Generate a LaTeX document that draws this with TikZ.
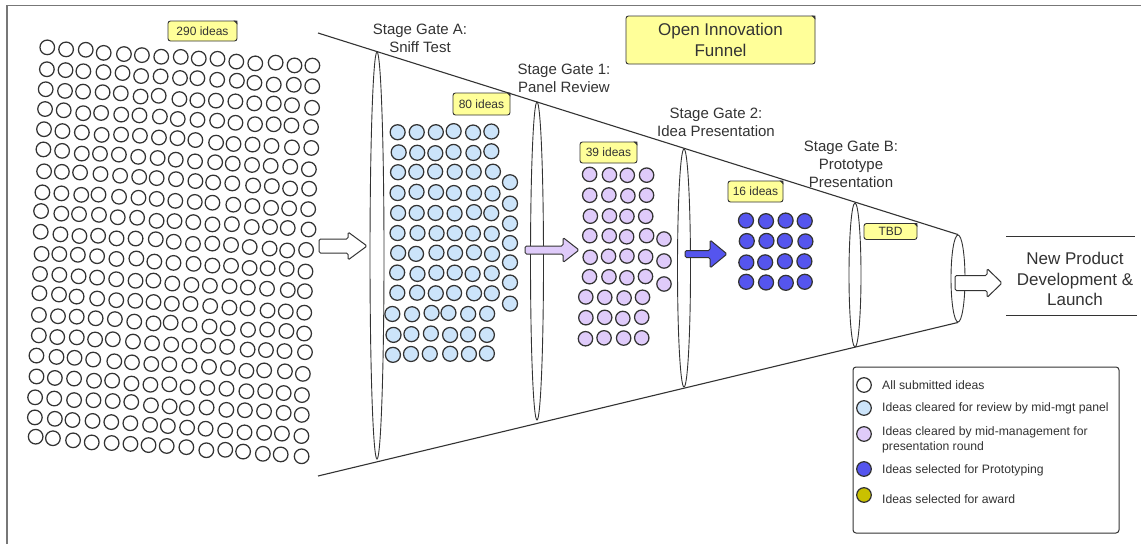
\documentclass[tikz,border=0pt]{standalone}
\usepackage{fontspec}
\setmainfont{Liberation Sans}
\usetikzlibrary{shapes.geometric}
\definecolor{ink}{HTML}{333333}
\definecolor{frame}{HTML}{777777}
\definecolor{noteyellow}{HTML}{FFFF99}
\definecolor{ideablue}{HTML}{CCE4FA}
\definecolor{ideapurple}{HTML}{DFCBFA}
\definecolor{ideadark}{HTML}{5555EE}
\definecolor{ideaolive}{HTML}{C9C100}
\newcommand\blockarr[7]{%
  \draw[barrow, fill=#1] (#2,{#5-#6}) -- (#3,{#5-#6}) -- (#3,{#5-#7}) -- (#4,#5)
    -- (#3,{#5+#7}) -- (#3,{#5+#6}) -- (#2,{#5+#6}) -- cycle;}
\newcommand\dogear[1]{%
  \fill[ink] ([xshift=-4pt]#1.north east) -- (#1.north east) -- ([yshift=-4pt]#1.north east) -- cycle;}
\begin{document}
\begin{tikzpicture}[x=1pt,y=-1pt,
  idea/.style={draw=ink, line width=1.25pt},
  gate/.style={ellipse, draw=ink, line width=0.9pt, inner sep=0pt, fill=white},
  funnelline/.style={draw=ink, line width=1.1pt},
  barrow/.style={draw=ink, line width=1pt, rounded corners=1.5pt},
  notebox/.style={draw=ink, fill=noteyellow, line width=0.9pt, rounded corners=2.5pt, inner sep=0pt, text=ink},
  countlabel/.style={notebox, font=\fontsize{12}{14}\selectfont},
  gatelabel/.style={text=ink, align=center, inner sep=0pt, font=\fontsize{15}{18}\selectfont},
  legendtext/.style={text=ink, align=left, inner sep=0pt, anchor=west, font=\fontsize{12.2}{15}\selectfont},
]
\useasboundingbox (0,0) rectangle (1141,544);
\fill[white] (0,0) rectangle (1141,544);
% frame
\draw[frame, line width=1.6pt] (7,544) -- (7,5.5) -- (1141,5.5);

% funnel gates
\node[gate, minimum width=14pt, minimum height=407pt] (gA) at (377,255.5) {};
\node[gate, minimum width=13pt, minimum height=318pt] (g1) at (537,261) {};
\node[gate, minimum width=13pt, minimum height=238pt] (g2) at (684,268) {};
\node[gate, minimum width=12pt, minimum height=144pt] (gB) at (855,275) {};
\node[gate, minimum width=14pt, minimum height=87pt] (gE) at (958,278.5) {};
\coordinate (ftop) at (318,33);
\coordinate (fbot) at (318,476);
\draw[funnelline] (ftop) -- (gE.north);
\draw[funnelline] (fbot) -- (gE.south);

% all submitted ideas
\pgfmathsetseed{42}
\foreach \r in {0,...,19}{
  \foreach \c in {0,...,14}{
    \pgfmathsetmacro\px{47+19.0*\c-0.65*\r+1.1*rand}
    \pgfmathsetmacro\py{48+20.5*\r+1.3*\c+1.1*rand}
    \draw[idea, fill=white] (\px,\py) circle[radius=7.3pt];
  }
}
% cleared for review
\foreach \r in {0,...,11}{
  \foreach \c in {0,...,5}{
    \pgfmathsetmacro\px{398+18.8*\c-(\r>8 ? 5 : 0)+1.0*rand}
    \pgfmathsetmacro\py{132+20.2*\r+1.0*rand}
    \draw[idea, fill=ideablue] (\px,\py) circle[radius=7.5pt];
  }
}
\foreach \k in {0,...,6}{
  \pgfmathsetmacro\py{183+20.0*\k+0.8*rand}
  \draw[idea, fill=ideablue] (510,\py) circle[radius=7.5pt];
}
% cleared for presentation
\foreach \r in {0,...,8}{
  \foreach \c in {0,...,3}{
    \pgfmathsetmacro\px{590+18.7*\c-(\r>5 ? 4 : 0)+0.8*rand}
    \pgfmathsetmacro\py{175+20.4*\r+0.8*rand}
    \draw[idea, fill=ideapurple] (\px,\py) circle[radius=7.2pt];
  }
}
\foreach \py in {239,261,284}{
  \draw[idea, fill=ideapurple] (664,\py) circle[radius=7.2pt];
}
% prototyping
\foreach \r in {0,...,3}{
  \foreach \c in {0,...,3}{
    \pgfmathsetmacro\px{746+19.7*\c+0.8*rand}
    \pgfmathsetmacro\py{221+20.5*\r+0.8*rand}
    \draw[idea, fill=ideadark] (\px,\py) circle[radius=7.5pt];
  }
}

% block arrows
\blockarr{white}{319}{348}{367}{246}{7}{14}
\blockarr{ideapurple}{525}{563}{579}{250}{4}{12.5}
\blockarr{ideadark}{685}{710}{727}{254}{3.5}{14}
\blockarr{white}{955}{987}{1002}{283}{7.5}{14.5}

% count labels
\node[countlabel, minimum width=69pt, minimum height=20pt] (n290) at (202.5,31) {290 ideas};
\dogear{n290}
\node[countlabel, minimum width=57pt, minimum height=22pt] (n80) at (481.5,104) {80 ideas};
\dogear{n80}
\node[countlabel, minimum width=57pt, minimum height=21pt] (n39) at (608.5,152.5) {39 ideas};
\dogear{n39}
\node[countlabel, minimum width=55pt, minimum height=21pt] (n16) at (755.5,191.5) {16 ideas};
\dogear{n16}
\node[countlabel, minimum width=53pt, minimum height=16pt] (ntbd) at (890.5,231.5) {TBD};
\dogear{ntbd}

% title
\node[notebox, minimum width=189pt, minimum height=48pt, align=center, font=\fontsize{17}{21}\selectfont] (title) at (720.5,40) {Open Innovation\\Funnel};
\dogear{title}

% stage gate labels
\node[gatelabel] (tA) at (420,38) {Stage Gate A:\\Sniff Test};
\node[gatelabel] (t1) at (564,78) {Stage Gate 1:\\Panel Review};
\node[gatelabel] (t2) at (716,122) {Stage Gate 2:\\Idea Presentation};
\node[gatelabel] (tB) at (851,164.5) {Stage Gate B:\\Prototype\\Presentation};

% outcome
\node[text=ink, align=center, inner sep=0pt, font=\fontsize{17}{20.5}\selectfont] (launch) at (1075,279) {New Product\\Development \&\\Launch};
\coordinate (lt1) at (1006,236);
\coordinate (lt2) at (1135,236);
\coordinate (lb1) at (1006,315);
\coordinate (lb2) at (1137,315);
\draw[ink, line width=1pt] (lt1) -- (lt2);
\draw[ink, line width=1pt] (lb1) -- (lb2);

% legend
\node[draw=ink, line width=1pt, rounded corners=3pt, minimum width=266pt, minimum height=166pt, inner sep=0pt] (legend) at (986,450) {};
\draw[idea, fill=white] (864,385) circle[radius=7.3pt];
\draw[idea, fill=ideablue] (864,408) circle[radius=7.3pt];
\draw[idea, fill=ideapurple] (864,434) circle[radius=7.3pt];
\draw[idea, fill=ideadark] (864,469) circle[radius=7.3pt];
\draw[idea, fill=ideaolive] (864,495) circle[radius=7.3pt];
\node[legendtext] (l1) at (882,385) {All submitted ideas};
\node[legendtext] (l2) at (882,408) {Ideas cleared for review by mid-mgt panel};
\node[legendtext] (l3) at (882,439.5) {Ideas cleared by mid-management for\\presentation round};
\node[legendtext] (l4) at (882,470) {Ideas selected for Prototyping};
\node[legendtext] (l5) at (882,499) {Ideas selected for award};
\end{tikzpicture}
\end{document}
